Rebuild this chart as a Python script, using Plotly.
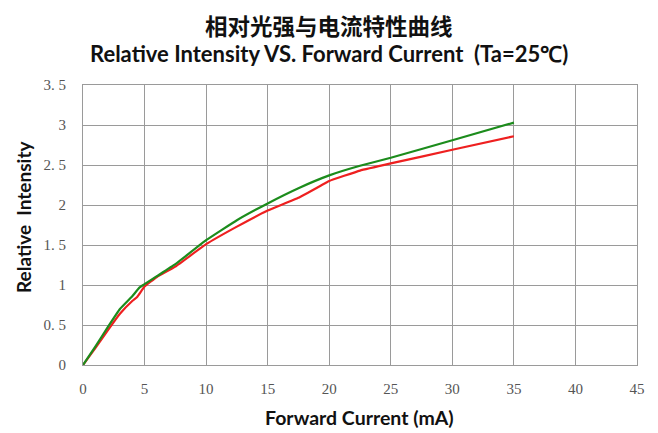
import plotly.graph_objects as go

# Data
green_x = [0, 1, 2, 3, 4, 4.6, 5, 6, 7.5, 10, 12.5, 15, 17.5, 20, 22.5, 25, 30, 35]
green_y = [0, 0.23, 0.47, 0.70, 0.86, 0.97, 1.01, 1.11, 1.26, 1.56, 1.81, 2.02, 2.21, 2.37, 2.49, 2.59, 2.81, 3.03]
red_x = [0, 1, 2, 3, 4, 4.4, 5, 6, 7.5, 10, 12.5, 15, 17.5, 19.4, 20, 22.5, 25, 30, 35]
red_y = [0, 0.21, 0.43, 0.64, 0.80, 0.85, 0.98, 1.10, 1.23, 1.51, 1.73, 1.93, 2.09, 2.25, 2.30, 2.43, 2.52, 2.69, 2.86]

x_ticks = [0, 5, 10, 15, 20, 25, 30, 35, 40, 45]
y_ticks = [0, 0.5, 1, 1.5, 2, 2.5, 3, 3.5]
y_ticktext = ["0", "0. 5", "1", "1. 5", "2", "2. 5", "3", "3. 5"]

# page body has an 8px margin; figure sized to fit the window
W, H = 650, 425
OFF = 8
L, R, T, B = 75, 21, 77, 68

fig = go.Figure()
fig.add_trace(go.Scatter(x=red_x, y=red_y, mode="lines",
                         line=dict(color="#ee2020", width=2.2, shape="spline", smoothing=0.3)))
fig.add_trace(go.Scatter(x=green_x, y=green_y, mode="lines",
                         line=dict(color="#1c8c1c", width=2.2, shape="spline", smoothing=0.3)))

grid = "#9a9a9a"
tickfont = dict(family="Liberation Serif", size=15, color="#555555")
fig.update_layout(
    width=W, height=H,
    margin=dict(l=L, r=R, t=T, b=B, autoexpand=False),
    plot_bgcolor="white", paper_bgcolor="white",
    showlegend=False,
    xaxis=dict(range=[0, 45], tickvals=x_ticks, showgrid=True, gridcolor=grid, gridwidth=1,
               zeroline=False, showline=True, linecolor=grid, mirror=True, automargin=False,
               ticks="", tickfont=tickfont, ticklabelstandoff=10),
    yaxis=dict(range=[0, 3.5], tickvals=y_ticks, ticktext=y_ticktext, showgrid=True,
               gridcolor=grid, gridwidth=1, zeroline=False, showline=True, automargin=False,
               linecolor=grid, mirror=True, ticks="", tickfont=tickfont, ticklabelstandoff=13),
)

plot_w = W - L - R
plot_h = H - T - B
def xp(px):
    return (px - OFF - L) / plot_w
def yp(py):
    return (H - B - (py - OFF)) / plot_h

fig.add_annotation(text="<b>相对光强与电流特性曲线</b>", x=xp(329), y=yp(8), xref="paper", yref="paper",
                   showarrow=False, xanchor="center", yanchor="top", borderpad=0,
                   font=dict(family="Noto Sans CJK SC", size=22.5, color="#111111"))
fig.add_annotation(text="<b>Relative Intensity VS. Forward Current  (Ta=25℃)</b>", x=xp(329), y=yp(54),
                   xref="paper", yref="paper", showarrow=False, xanchor="center", yanchor="middle",
                   borderpad=0, font=dict(family="Lato", size=22, color="#111111"))
fig.add_annotation(text="<b>Forward Current (mA)</b>", x=xp(359), y=yp(417),
                   xref="paper", yref="paper", showarrow=False, xanchor="center", yanchor="middle",
                   font=dict(family="Lato", size=19.5, color="#111111"))
fig.add_annotation(text="<b>Relative  Intensity</b>", x=xp(23), y=yp(217), textangle=-90,
                   xref="paper", yref="paper", showarrow=False, xanchor="center", yanchor="middle",
                   font=dict(family="Lato", size=19, color="#111111"))

fig.write_html("out.html")
